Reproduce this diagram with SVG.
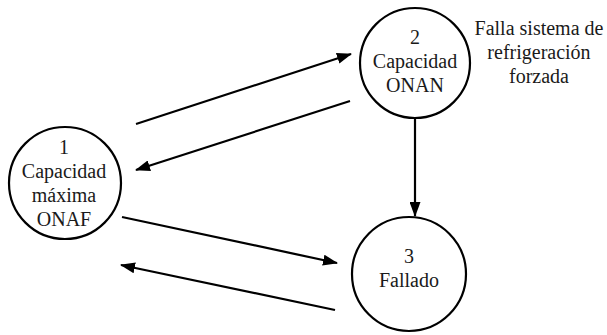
<svg xmlns="http://www.w3.org/2000/svg" width="607" height="335" viewBox="0 0 607 335">
<style>
.node{fill:#fff;stroke:#000;stroke-width:2.2}
text{font-family:'Liberation Serif','Times New Roman',Times,serif;font-size:20px;fill:#1a1a1a;text-anchor:middle}
.c{stroke:#000;stroke-width:2.2;fill:none;marker-end:url(#ah)}
</style>
<defs>
<marker id="ah" markerUnits="userSpaceOnUse" markerWidth="15" markerHeight="11" refX="14" refY="5.5" orient="auto">
<path d="M0,0 L15,5.5 L0,11 Z" fill="#000"/>
</marker>
</defs>
<rect width="607" height="335" fill="#fff"/>
<g id="connectors">
<line class="c" x1="136" y1="124" x2="351" y2="54"/>
<line class="c" x1="350" y1="101" x2="136" y2="170"/>
<line class="c" x1="122" y1="217" x2="337" y2="263"/>
<line class="c" x1="335" y1="310" x2="121" y2="265"/>
<line class="c" x1="415" y1="118" x2="415" y2="216"/>
</g>
<g id="node1">
<circle class="node" cx="65" cy="183" r="56"/>
<text x="64" y="154">1</text>
<text x="64" y="178">Capacidad</text>
<text x="64" y="202">máxima</text>
<text x="64" y="226">ONAF</text>
</g>
<g id="node2">
<circle class="node" cx="415" cy="63" r="55"/>
<text x="415" y="44">2</text>
<text x="415" y="68">Capacidad</text>
<text x="415" y="92">ONAN</text>
</g>
<g id="node3">
<circle class="node" cx="409" cy="274" r="57"/>
<text x="409" y="263">3</text>
<text x="409" y="287">Fallado</text>
</g>
<g id="label">
<text x="539" y="35">Falla sistema de</text>
<text x="539" y="59">refrigeración</text>
<text x="539" y="83">forzada</text>
</g>
</svg>
